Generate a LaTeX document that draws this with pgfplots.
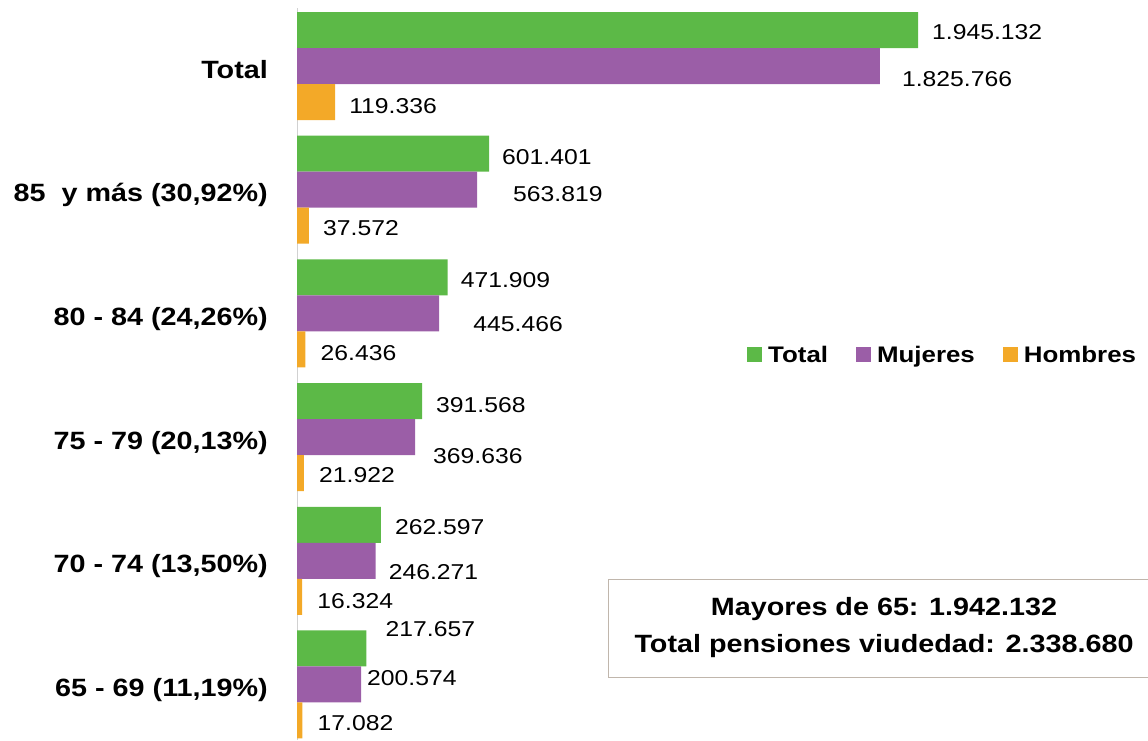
\documentclass[border=0pt]{standalone}
\usepackage{fontspec}
\setmainfont{Liberation Sans}[FakeStretch=1.15]
\usepackage{pgfplots}
\pgfplotsset{compat=1.18}
\usepackage{pgfplotstable}

\definecolor{cT}{RGB}{92,185,71}
\definecolor{cM}{RGB}{155,94,167}
\definecolor{cH}{RGB}{243,169,40}
\definecolor{boxc}{RGB}{192,182,172}

\pgfplotstableread{
y x dx dy label
5 1945132 14 -2.5 1.945.132
4 601401 13 -3.5 601.401
3 471909 13 -3 471.909
2 391568 14 -4 391.568
1 262597 14 -2 262.597
0 217657 19 19.5 217.657
}\tTotal

\pgfplotstableread{
y x dx dy label
5 1825766 22 -13 1.825.766
4 563819 36 -4.5 563.819
3 445466 34 -11 445.466
2 369636 18 -19 369.636
1 246271 13 -11 246.271
0 200574 6 6.5 200.574
}\tMujeres

\pgfplotstableread{
y x dx dy label
5 119336 14 -4 119.336
4 37572 14 -2 37.572
3 26436 15 -3.5 26.436
2 21922 15 -2 21.922
1 16324 15 -4 16.324
0 17082 15 -2.5 17.082
}\tHombres

\begin{document}
\begin{tikzpicture}
\begin{axis}[
  at={(297pt,0pt)}, anchor=south west,
  scale only axis, width=851pt, height=732pt,
  xmin=0, xmax=2665500, ymin=-0.449, ymax=5.469,
  xbar, bar width=36pt,
  axis x line=none,
  axis y line*=left,
  y axis line style={-, draw=black!18, line width=1pt},
  ytick={0,1,2,3,4,5},
  yticklabels={{65 - 69 (11,19\%)}, {70 - 74 (13,50\%)}, {75 - 79 (20,13\%)}, {80 - 84 (24,26\%)}, {85~ y más (30,92\%)}, {Total}},
  major tick length=0pt,
  yticklabel style={font=\bfseries\fontsize{25}{30}\selectfont, anchor=base east, inner sep=0pt, xshift=-29pt, yshift=-12pt},
  clip=false,
  nodes near coords,
  point meta=explicit symbolic,
  visualization depends on={\thisrow{dx}\as\lx},
  visualization depends on={\thisrow{dy}\as\ly},
  nodes near coords style={font=\fontsize{21.5}{25}\selectfont, anchor=west, inner sep=0pt, xshift=\lx pt, yshift=\ly pt, text=black},
  legend columns=3,
  legend cell align=left,
  legend style={at={(0.5288,0.526)}, anchor=west, draw=none, fill=none, inner sep=0pt,
    font=\bfseries\fontsize{22.5}{27}\selectfont,
    /tikz/every odd column/.style={column sep=6pt},
    /tikz/every even column/.style={column sep=28pt},
    nodes={inner sep=0pt}},
]
\addplot[fill=cT, draw=none, bar shift=36pt, legend image code/.code={\fill[cT] (0pt,-7.5pt) rectangle (15pt,7.5pt);}] table[x=x, y=y, meta=label]{\tTotal};
\addplot[fill=cM, draw=none, bar shift=0pt, legend image code/.code={\fill[cM] (0pt,-7.5pt) rectangle (15pt,7.5pt);}] table[x=x, y=y, meta=label]{\tMujeres};
\addplot[fill=cH, draw=none, bar shift=-36pt, legend image code/.code={\fill[cH] (0pt,-7.5pt) rectangle (15pt,7.5pt);}] table[x=x, y=y, meta=label]{\tHombres};
\legend{Total, Mujeres, Hombres}
\node[draw=boxc, line width=1pt, minimum width=552pt, minimum height=98pt, align=center,
  font=\bfseries\fontsize{25}{37}\selectfont, inner sep=0pt]
  at (rel axis cs:0.6898,0.153) {Mayores de 65: 1.942.132\\Total pensiones viudedad: 2.338.680};
\end{axis}
\pgfresetboundingbox
\useasboundingbox (0,0) rectangle (1148pt,740pt);
\end{tikzpicture}
\end{document}
